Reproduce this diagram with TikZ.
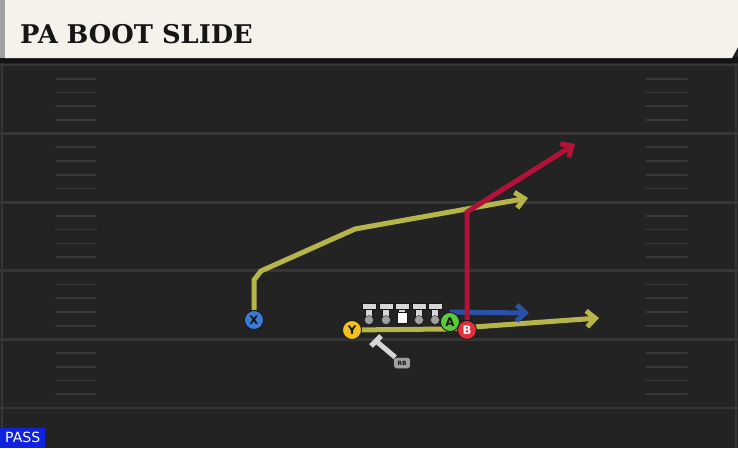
\documentclass[tikz,border=0pt]{standalone}
\usepackage{fontspec}
\setsansfont{DejaVu Sans}
\newfontfamily\titlefont{DejaVu Serif}
\usepackage{tikz}
\usetikzlibrary{arrows.meta,positioning}
\usepackage{xcolor}
\definecolor{pbfield}{RGB}{35,35,35}
\definecolor{pbyard}{RGB}{54,54,54}
\definecolor{pbhash}{RGB}{56,56,56}
\definecolor{pbbanner}{RGB}{245,242,235}
\definecolor{pbstrip}{RGB}{160,160,160}
\definecolor{pbshadow}{RGB}{20,20,20}
\definecolor{pbdark}{RGB}{22,22,22}
\definecolor{pbolive}{RGB}{181,181,74}
\definecolor{pbred}{RGB}{178,18,56}
\definecolor{pbblue}{RGB}{42,80,168}
\definecolor{pbx}{RGB}{58,123,213}
\definecolor{pby}{RGB}{242,194,28}
\definecolor{pba}{RGB}{92,200,60}
\definecolor{pbb}{RGB}{224,48,58}
\definecolor{pbol}{RGB}{214,214,214}
\definecolor{pbolbase}{RGB}{160,160,160}
\definecolor{pbpass}{RGB}{16,34,222}
\tikzstyle{player} = [circle, minimum size=0.57cm, inner sep=0pt, draw=pbdark, line width=0.7pt, font=\sffamily\bfseries, text=pbdark]
\tikzstyle{route} = [line width=0.15cm, -{Straight Barb[length=0.26cm,width=0.48cm]}]
\tikzstyle{yardline} = [line width=0.08cm, draw=pbyard]
\tikzstyle{hashmark} = [line width=0.05cm, draw=pbhash, line cap=round]
\tikzstyle{lineman} = [fill=pbol, draw=pbdark, line width=0.3pt]
\pgfdeclarelayer{turf}
\pgfdeclarelayer{paths}
\pgfsetlayers{turf,paths,main}

\begin{document}
\begin{tikzpicture}[x=0.03cm,y=-0.03cm]
\useasboundingbox (0,0) rectangle (738,448);

% field
\begin{pgfonlayer}{turf}
\fill[pbfield] (0,0) rectangle (738,448);
\foreach \k in {0,...,5}
  \draw[yardline] (0,{65+68.6*\k}) -- (738,{65+68.6*\k});
\foreach \k in {0,...,4}
  \foreach \j in {1,...,4} {
    \draw[hashmark] (56,{65+68.6*\k+13.72*\j}) -- (96,{65+68.6*\k+13.72*\j});
    \draw[hashmark] (646,{65+68.6*\k+13.72*\j}) -- (687,{65+68.6*\k+13.72*\j});
  }
\draw[yardline] (2,60) -- (2,448);
\draw[yardline] (736,60) -- (736,448);
% banner
\fill[pbshadow] (0,57) rectangle (738,63);
\fill[pbbanner] (5,0) -- (738,0) -- (738,47) -- (732,58) -- (5,58) -- cycle;
\fill[pbstrip] (0,0) rectangle (5,58);
\end{pgfonlayer}

\node[anchor=base west, inner sep=0pt, text=pbdark, font=\titlefont\bfseries\fontsize{22}{22}\selectfont] (title) at (20,43) {PA BOOT SLIDE};

% players
\node[player, fill=pbx] (X) at (254,320) {X};
\node[player, fill=pby] (Y) at (352,330) {Y};
\node[player, fill=pba] (A) at (450,322) {A};
\node[player, fill=pbb, text=white] (B) at (467,330) {B};

\coordinate (xend) at (528,198);
\coordinate (yend) at (599,318);
\coordinate (aend) at (529,313);
\coordinate (bend) at (575,144);

% routes
\begin{pgfonlayer}{paths}
\draw[route, pbolive] (X) -- (254,280) -- (261,271) -- (355,229) -- (xend);
\draw[route, pbolive] (Y) -- (446,329) -- (yend);
\draw[route, pbblue] (A.north) -- (aend);
\draw[route, pbred] (B) -- (467,212) -- (bend);
\end{pgfonlayer}

% line
\foreach \x in {369,386,419,435} {
  \fill[lineman] (\x-3.5,308) rectangle (\x+3.5,320);
  \fill[lineman] (\x-7,303) rectangle (\x+7,309);
  \fill[pbolbase, draw=pbdark, line width=0.3pt] (\x,320) circle (0.135cm);
}
\fill[lineman] (398.5,308) rectangle (405.5,313);
\fill[lineman] (395,303) rectangle (409,309);
\fill[white, draw=pbdark, line width=0.3pt] (397,312) rectangle (407,323);

% back
\node[fill=pbolbase, draw=pbdark, rounded corners=1.5pt, minimum width=0.5cm, minimum height=0.33cm, inner sep=0pt, font=\sffamily\bfseries\fontsize{5}{5}\selectfont, text=pbdark] (rb) at (402,363) {RB};
\draw[line width=0.15cm, pbol] (376,341) -- (rb);
\draw[line width=0.15cm, pbol] (371,346) -- (381,336);

\node[anchor=south west, fill=pbpass, text=white, minimum width=1.35cm, minimum height=0.6cm, inner sep=0pt, font=\sffamily\fontsize{12}{12}\selectfont] (pass) at (0,448) {PASS};
\end{tikzpicture}
\end{document}
